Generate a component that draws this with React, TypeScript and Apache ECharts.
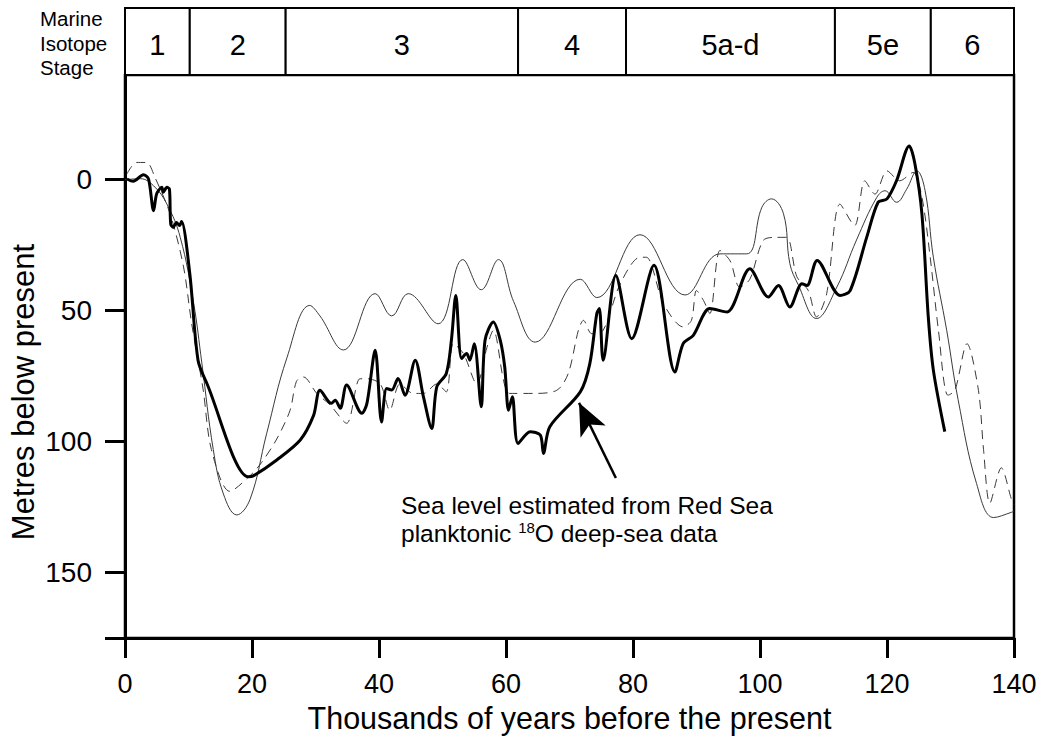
import React, { useEffect, useRef } from "react";
import * as echarts from "echarts";

const FONT = "'Liberation Sans', Arial, Helvetica, sans-serif";

// Marine isotope stage boundaries (kyr BP) and names
const stageBounds = [0, 10.2, 25.3, 61.9, 78.9, 111.8, 126.9, 140];
const stageNames = ["1", "2", "3", "4", "5a-d", "5e", "6"];

// Axis tick values
const yLabelValues = [0, 50, 100, 150];
const yTickValues = [0, 50, 100, 150, 175];

// Sea level estimated from Red Sea planktonic 18O (bold line) [kyr, m below present]
const redSea: [number, number][] = [
  [0.3, -0.3], [1.3, 0.6], [2.9, -1.9], [3.7, -0.3], [4.5, 11.8], [5.0, 5.3], [5.8, 2.9],
  [6.0, 4.8], [6.6, 2.9], [7.0, 3.6], [7.2, 16.9], [7.6, 18.2], [8.1, 16.3], [8.6, 17.5],
  [8.9, 15.9], [10.2, 35.8], [11.5, 68.9], [12.9, 77.8], [19.4, 113.4], [20.2, 113.1],
  [23.9, 107], [27.6, 99.4], [29.7, 90], [30.7, 80.4], [32.5, 85.4], [33.1, 84.2],
  [33.9, 87.3], [34.9, 78.4], [37.3, 89.2], [38.1, 85.4], [39.4, 65.1], [40.4, 92.5],
  [41.2, 79.7], [42.0, 80.3], [43.0, 75.9], [44.1, 82.3], [45.7, 68.9], [47.0, 82.9],
  [48.3, 95], [49.1, 79.1], [50.6, 74], [51.4, 61.3], [52.1, 44.2], [53.0, 68.3],
  [53.8, 66.4], [54.3, 68.9], [55.0, 62.6], [56.1, 86.7], [56.7, 61.3], [58.0, 54.3],
  [59.1, 61.3], [59.8, 71.5], [60.4, 88], [61.0, 82.9], [61.9, 100.7], [63.8, 96.2],
  [65.4, 97.5], [65.9, 104.5], [66.9, 94.3], [71.7, 81], [73.2, 70.2], [74.3, 51.1],
  [74.7, 49.2], [75.3, 68.9], [77.3, 36.6], [79.8, 60.7], [83.3, 32.7], [86.6, 73.4],
  [87.9, 62.6], [89.5, 59.4], [92.1, 49.2], [94.8, 50.5], [98.4, 34], [101.3, 44.8],
  [102.9, 40.4], [104.7, 48.6], [106.6, 39.7], [107.4, 40.4], [109.0, 30.8], [112.6, 44.2],
  [114.2, 42.3], [116.8, 22], [118.6, 8.6], [120.0, 7.3], [121.5, 0.4], [123.5, -12.9],
  [124.4, -6], [125.5, 13.1], [126.5, 52.4], [127.3, 72.7], [129.1, 96.2],
];

// Thin solid curve
const thinCurve: [number, number][] = [
  [0, 0], [2.4, -0.4], [4.5, 2.3], [6.6, 9.3], [8.7, 22], [10.8, 47], [12.1, 70],
  [13.9, 103], [15.5, 120], [17.6, 128], [19.7, 122], [22.3, 97], [25.5, 68], [29.1, 48],
  [30.7, 52], [34.4, 65], [39.4, 43.5], [42.0, 52], [44.6, 43.5], [49.3, 55], [53.2, 30.5],
  [56.1, 42], [58.8, 30.5], [61.2, 46.5], [64.6, 62], [71.7, 38], [74.3, 45], [81.1, 21],
  [88.2, 44], [93.7, 28.3], [97.9, 28.3], [100.3, 10.5], [101.8, 7.3], [103.7, 13],
  [104.7, 32], [106.0, 40], [108.9, 53], [112.1, 41], [115.2, 23], [118.4, 6.7],
  [119.7, 4.2], [121.5, 8.6], [123.1, 3.6], [124.7, -3.4], [126.0, 4.2], [127.3, 29.6],
  [129.4, 57.5], [131.2, 84], [134.1, 116], [136.8, 129], [139.6, 127], [140, 126.5],
];

// Dashed curve
const dashedCurve: [number, number][] = [
  [0.3, -2.2], [1.8, -6.6], [3.4, -6.6], [4.7, -1], [7.1, 13], [9.2, 33], [10.5, 55],
  [12.3, 80], [13.6, 103], [16.5, 119], [19.7, 113], [21.5, 108], [23.9, 99], [26.0, 88],
  [27.0, 77], [28.1, 75.3], [30.2, 81.6], [32.3, 86], [34.9, 93], [37.0, 76], [38.1, 76],
  [40.2, 78], [41.7, 88], [43.3, 78], [45.4, 81.6], [47.0, 81.6], [49.1, 78], [50.6, 81],
  [51.7, 62.6], [53.3, 66.4], [55.4, 78], [57.0, 64], [58.0, 57.5], [60.6, 81.6],
  [64.3, 81.6], [68.0, 80.4], [69.8, 74], [71.4, 57.5], [72.2, 53.7], [73.5, 58.8],
  [75.3, 57.5], [78.0, 39.7], [81.1, 29.6], [82.1, 29.6], [84.8, 47.3], [87.9, 56.2],
  [89.2, 53.7], [90.0, 42.3], [91.1, 46.1], [92.1, 51.1], [93.7, 27], [95.3, 31],
  [96.8, 41], [98.4, 38], [100.5, 23.2], [102.5, 22], [104.2, 22], [105.8, 37],
  [107.6, 42.3], [108.9, 52.4], [110.5, 43.5], [112.6, 9.3], [114.9, 17.5], [116.5, 0.4],
  [118.1, 5.5], [120, -3.4], [122, 0.4], [124.1, -2.8], [125.5, 6.7], [126.8, 29.6],
  [128.1, 57.5], [129.6, 82.3], [130.7, 80.4], [132.6, 62.6], [134.4, 80.4], [135.2, 103],
  [136.2, 123.5], [138, 110], [139.6, 122], [140, 124],
];

// Annotation arrow: tail and tip (kyr, m)
const arrowTail: [number, number] = [77.3, 113.9];
const arrowHead: [number, number] = [71.5, 85.2];

export default function App() {
  const ref = useRef<HTMLDivElement>(null);

  useEffect(() => {
    document.body.style.margin = "0";
    if (!ref.current) return;
    const chart = echarts.init(ref.current, null, { renderer: "svg" });
    const black = "#000";
    const axisLineStyle = { color: black, width: 3 };

    const stageAreas = stageNames.map((name, i) => [
      { name, coord: [stageBounds[i], 0] },
      { coord: [stageBounds[i + 1], 1] },
    ]);

    const smallText = (text: string, y: number) => ({
      type: "text", x: 40, y,
      style: { text, fontSize: 20.5, fontFamily: FONT, fill: black, align: "left", verticalAlign: "middle" },
    });

    chart.setOption({
      animation: false,
      backgroundColor: "#fff",
      grid: [
        {
          left: 125, right: 34, top: 75, bottom: 111,
          show: true, borderColor: black, borderWidth: 2.5, backgroundColor: "transparent",
        },
        { left: 125, right: 34, top: 8, height: 67, show: false },
      ],
      xAxis: [
        {
          type: "value", gridIndex: 0, min: 0, max: 140, interval: 20,
          name: "Thousands of years before the present",
          nameLocation: "middle", nameGap: 64,
          nameTextStyle: { fontSize: 30.5, color: black, fontFamily: FONT },
          axisLine: { show: true, onZero: false, lineStyle: axisLineStyle },
          axisTick: { show: true, length: 20, lineStyle: axisLineStyle },
          axisLabel: { fontSize: 27, color: black, margin: 32, fontFamily: FONT },
          splitLine: { show: false },
        },
        { type: "value", gridIndex: 1, min: 0, max: 140, show: false },
      ],
      yAxis: [
        {
          type: "value", gridIndex: 0, inverse: true, min: -40, max: 175,
          axisLine: { show: true, onZero: false, lineStyle: axisLineStyle },
          axisTick: { show: true, length: 20, customValues: yTickValues, lineStyle: axisLineStyle },
          axisLabel: { customValues: yLabelValues, fontSize: 28, color: black, margin: 33, fontFamily: FONT },
          splitLine: { show: false },
        },
        { type: "value", gridIndex: 1, min: 0, max: 1, show: false },
      ],
      graphic: [
        smallText("Marine", 18),
        smallText("Isotope", 43),
        smallText("Stage", 67),
        {
          type: "text", x: 23, y: 392, rotation: Math.PI / 2,
          style: { text: "Metres below present", fontSize: 31, fontFamily: FONT, fill: black, align: "center", verticalAlign: "middle" },
        },
        {
          type: "text", x: 401, y: 505,
          style: { text: "Sea level estimated from Red Sea", fontSize: 24.5, fontFamily: FONT, fill: black, align: "left", verticalAlign: "middle" },
        },
        {
          type: "text", x: 401, y: 533,
          style: {
            text: "{a|planktonic }{b|18}{a|O deep-sea data}",
            fontSize: 24.5, fontFamily: FONT, fill: black, align: "left", verticalAlign: "middle",
            rich: {
              a: { fontSize: 24.5, fontFamily: FONT, fill: black },
              b: { fontSize: 15, fontFamily: FONT, fill: black, padding: [0, 0, 12, 0] },
            },
          },
        },
      ],
      series: [
        {
          type: "line", name: "thin", xAxisIndex: 0, yAxisIndex: 0, data: thinCurve,
          symbol: "none", smooth: 0.4, lineStyle: { color: "#3a3a3a", width: 1 }, silent: true,
        },
        {
          type: "line", name: "dashed", xAxisIndex: 0, yAxisIndex: 0, data: dashedCurve,
          symbol: "none", smooth: 0.3, lineStyle: { color: "#3a3a3a", width: 1, type: [9, 6] }, silent: true,
        },
        {
          type: "line", name: "Red Sea", xAxisIndex: 0, yAxisIndex: 0, data: redSea,
          symbol: "none", smooth: 0.3, lineStyle: { color: black, width: 3 }, silent: true,
          markLine: {
            silent: true, animation: false,
            label: { show: false },
            lineStyle: { color: black, width: 2.5, type: "solid" },
            data: [[
              { coord: arrowTail, symbol: "none" },
              { coord: arrowHead, symbol: "arrow", symbolSize: [21, 32] },
            ]],
          },
        },
        {
          type: "line", name: "stages", xAxisIndex: 1, yAxisIndex: 1, data: [[0, -5]],
          symbol: "none", lineStyle: { opacity: 0 }, silent: true,
          markArea: {
            silent: true,
            itemStyle: { color: "#fff", borderColor: black, borderWidth: 2 },
            label: { show: true, position: "inside", fontSize: 29, color: black, fontFamily: FONT, offset: [0, 3] },
            data: stageAreas,
          },
        },
      ],
    });

    return () => chart.dispose();
  }, []);

  return <div ref={ref} style={{ width: 1048, height: 749 }} />;
}
